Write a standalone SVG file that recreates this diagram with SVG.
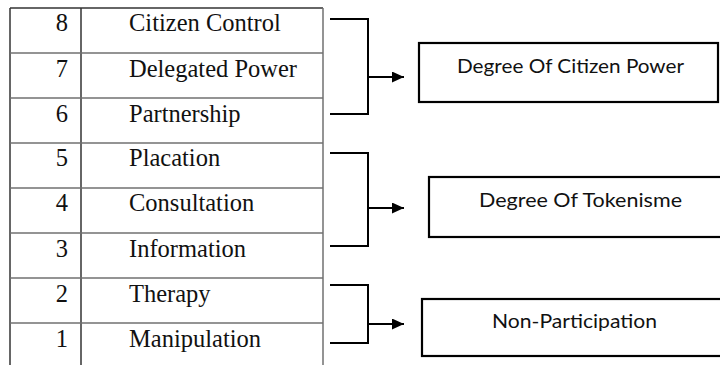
<svg xmlns="http://www.w3.org/2000/svg" width="720" height="365" viewBox="0 0 720 365">
  <style>
    .tl { stroke: #333; stroke-width: 1.5; fill: none; }
    .sep { stroke: #707070; stroke-width: 1.5; }
    .num { font-family: "Liberation Serif", "Times New Roman", serif; font-size: 24.5px; fill: #111; text-anchor: end; }
    .lbl { font-family: "Liberation Serif", "Times New Roman", serif; font-size: 24.5px; fill: #111; }
    .br { stroke: #000; stroke-width: 2; fill: none; }
    .box { stroke: #000; stroke-width: 2.2; fill: #fff; }
    .bt { font-family: Lato, "Open Sans", "Liberation Sans", sans-serif; font-size: 20px; fill: #111; }
  </style>
  <defs>
    <marker id="ah" markerWidth="12" markerHeight="11" refX="12" refY="5.5" orient="auto" markerUnits="userSpaceOnUse">
      <path d="M0,0 L12,5.5 L0,11 Z" fill="#000"/>
    </marker>
  </defs>
  <rect width="720" height="365" fill="#fff"/>

  <g id="table">
    <line class="tl" x1="10" y1="8" x2="323" y2="8"/>
    <line class="tl" x1="10" y1="8" x2="10" y2="365"/>
    <line class="tl" x1="81" y1="8" x2="81" y2="365"/>
    <line class="sep" x1="323" y1="8" x2="323" y2="365" stroke="#8a8a8a"/>
    <line class="sep" x1="10" y1="53" x2="323" y2="53"/>
    <line class="sep" x1="10" y1="98" x2="323" y2="98"/>
    <line class="sep" x1="10" y1="143" x2="323" y2="143"/>
    <line class="sep" x1="10" y1="188" x2="323" y2="188"/>
    <line class="sep" x1="10" y1="233" x2="323" y2="233"/>
    <line class="sep" x1="10" y1="278" x2="323" y2="278"/>
    <line class="sep" x1="10" y1="323" x2="323" y2="323"/>
  </g>

  <g id="row8"><text class="num" x="68" y="31">8</text><text class="lbl" x="129" y="31">Citizen Control</text></g>
  <g id="row7"><text class="num" x="68" y="77">7</text><text class="lbl" x="129" y="77">Delegated Power</text></g>
  <g id="row6"><text class="num" x="68" y="122">6</text><text class="lbl" x="129" y="122">Partnership</text></g>
  <g id="row5"><text class="num" x="68" y="166">5</text><text class="lbl" x="129" y="166">Placation</text></g>
  <g id="row4"><text class="num" x="68" y="211">4</text><text class="lbl" x="129" y="211">Consultation</text></g>
  <g id="row3"><text class="num" x="68" y="257">3</text><text class="lbl" x="129" y="257">Information</text></g>
  <g id="row2"><text class="num" x="68" y="302">2</text><text class="lbl" x="129" y="302">Therapy</text></g>
  <g id="row1"><text class="num" x="68" y="347">1</text><text class="lbl" x="129" y="347">Manipulation</text></g>

  <g id="connectors">
    <path class="br" d="M330,19 H368 V114 H330"/>
    <line class="br" x1="368" y1="77" x2="404" y2="77" marker-end="url(#ah)"/>
    <path class="br" d="M330,153 H368 V246 H330"/>
    <line class="br" x1="368" y1="208" x2="404" y2="208" marker-end="url(#ah)"/>
    <path class="br" d="M330,285 H368 V343 H330"/>
    <line class="br" x1="368" y1="324" x2="404" y2="324" marker-end="url(#ah)"/>
  </g>

  <g id="citizen-power">
    <rect class="box" x="419" y="43" width="299" height="59"/>
    <text class="bt" x="570.5" y="73" text-anchor="middle" textLength="227" lengthAdjust="spacingAndGlyphs">Degree Of Citizen Power</text>
  </g>
  <g id="tokenisme">
    <rect class="box" x="429" y="177" width="295" height="60"/>
    <text class="bt" x="580.5" y="207" text-anchor="middle" textLength="203" lengthAdjust="spacingAndGlyphs">Degree Of Tokenisme</text>
  </g>
  <g id="non-participation">
    <rect class="box" x="422" y="299" width="302" height="57"/>
    <text class="bt" x="574.5" y="328" text-anchor="middle" textLength="165" lengthAdjust="spacingAndGlyphs">Non-Participation</text>
  </g>
</svg>
